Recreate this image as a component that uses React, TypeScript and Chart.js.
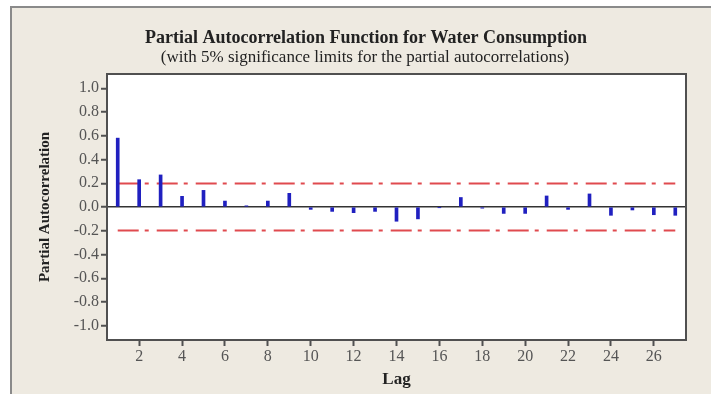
import React, { useEffect, useRef } from "react";
import { Chart, registerables } from "chart.js";

Chart.register(...registerables);

const lags = [1, 2, 3, 4, 5, 6, 7, 8, 9, 10, 11, 12, 13, 14, 15, 16, 17, 18, 19, 20, 21, 22, 23, 24, 25, 26, 27];
const pacf = [0.58, 0.23, 0.27, 0.09, 0.14, 0.05, 0.01, 0.05, 0.115, -0.02, -0.037, -0.048, -0.037, -0.12, -0.10, -0.004, 0.08, -0.01, -0.054, -0.054, 0.093, -0.02, 0.11, -0.07, -0.025, -0.065, -0.07];
const upperLimit = 0.198;
const lowerLimit = -0.198;
const limitSpan = [1, 27];
const yTicks = [1.0, 0.8, 0.6, 0.4, 0.2, 0.0, -0.2, -0.4, -0.6, -0.8, -1.0];
const xTicks = [2, 4, 6, 8, 10, 12, 14, 16, 18, 20, 22, 24, 26];
const titleText = "Partial Autocorrelation Function for Water Consumption";
const subtitleText = "(with 5% significance limits for the partial autocorrelations)";
const xTitle = "Lag";
const yTitle = "Partial Autocorrelation";

const SERIF = "'Liberation Serif', 'Times New Roman', serif";

export default function App() {
  const ref = useRef<HTMLCanvasElement | null>(null);

  useEffect(() => {
    if (!ref.current) return;
    const framePlugin = {
      id: "framePlugin",
      beforeDraw(chart: any) {
        const { ctx, chartArea: a } = chart;
        ctx.save();
        ctx.fillStyle = "#ffffff";
        ctx.fillRect(a.left, a.top, a.right - a.left, a.bottom - a.top);
        ctx.restore();
      },
      afterDraw(chart: any) {
        const { ctx, chartArea: a } = chart;
        ctx.save();
        ctx.strokeStyle = "#505050";
        ctx.lineWidth = 2;
        ctx.strokeRect(a.left, a.top, a.right - a.left, a.bottom - a.top);
        ctx.fillStyle = "#222222";
        ctx.textAlign = "center";
        ctx.textBaseline = "middle";
        ctx.font = `bold 18px ${SERIF}`;
        ctx.fillText(titleText, 366, 38);
        ctx.font = `17px ${SERIF}`;
        ctx.fillText(subtitleText, 365, 58);
        ctx.restore();
      },
    };

    const chart = new Chart(ref.current, {
      type: "bar",
      data: {
        datasets: [
          {
            type: "bar",
            data: lags.map((l, i) => ({ x: l, y: pacf[i] })),
            backgroundColor: "#2020c0",
            borderWidth: 0,
            barThickness: 3,
            grouped: false,
            order: 0,
          } as any,
          {
            type: "line",
            data: limitSpan.map((x) => ({ x, y: upperLimit })),
            borderColor: "#e04a4f",
            borderWidth: 2,
            borderDash: [21, 6, 4, 8],
            pointRadius: 0,
            fill: false,
            order: 1,
          } as any,
          {
            type: "line",
            data: limitSpan.map((x) => ({ x, y: lowerLimit })),
            borderColor: "#e04a4f",
            borderWidth: 2,
            borderDash: [21, 6, 4, 8],
            pointRadius: 0,
            fill: false,
            order: 1,
          } as any,
        ],
      },
      options: {
        responsive: false,
        animation: false,
        devicePixelRatio: 1,
        layout: { padding: { top: 74, right: 25, bottom: 0, left: 0 } },
        plugins: {
          legend: { display: false },
          tooltip: { enabled: false },
          title: { display: false },
        },
        scales: {
          x: {
            type: "linear",
            min: 0.5,
            max: 27.5,
            offset: false,
            afterBuildTicks: (s: any) => {
              s.ticks = xTicks.map((v) => ({ value: v }));
            },
            afterFit: (s: any) => {
              s.height = 54;
            },
            border: { display: false },
            grid: {
              offset: false,
              drawOnChartArea: false,
              drawTicks: true,
              tickLength: 6,
              tickColor: "#505050",
              tickWidth: 2,
            },
            ticks: {
              color: "#555555",
              font: { family: SERIF, size: 16 },
              padding: 1,
              maxRotation: 0,
              autoSkip: false,
              callback: (v: any) => String(v),
            },
            title: {
              display: true,
              text: xTitle,
              color: "#222222",
              font: { family: SERIF, size: 17, weight: "bold" },
              padding: { top: 0, bottom: 4 },
            },
          },
          y: {
            type: "linear",
            min: -1.12,
            max: 1.12,
            afterBuildTicks: (s: any) => {
              s.ticks = yTicks.map((v) => ({ value: v }));
            },
            afterFit: (s: any) => {
              s.width = 107;
            },
            border: { display: false },
            grid: {
              color: (c: any) => (c.tick && Math.abs(c.tick.value) < 1e-9 ? "#333333" : "rgba(0,0,0,0)"),
              lineWidth: 1.5,
              drawTicks: true,
              tickLength: 6,
              tickColor: "#505050",
              tickWidth: 2,
            },
            ticks: {
              color: "#555555",
              font: { family: SERIF, size: 16 },
              padding: 2,
              autoSkip: false,
              callback: (v: any) => Number(v).toFixed(1),
            },
            title: {
              display: true,
              text: yTitle,
              color: "#222222",
              font: { family: SERIF, size: 15, weight: "bold" },
              padding: { top: 36, bottom: 0 },
            },
          },
        },
      },
      plugins: [framePlugin],
    } as any);

    return () => chart.destroy();
  }, []);

  return (
    <div style={{ position: "fixed", left: 0, top: 0, width: 711, height: 394, background: "#ffffff", overflow: "hidden" }}>
      <div
        style={{
          position: "absolute",
          left: 10,
          top: 6,
          width: 711,
          height: 400,
          background: "#eeeae1",
          borderLeft: "2px solid #8a8a8a",
          borderTop: "2px solid #8a8a8a",
        }}
      />
      <canvas ref={ref} width={711} height={394} style={{ position: "absolute", left: 0, top: 0, width: 711, height: 394 }} />
    </div>
  );
}
